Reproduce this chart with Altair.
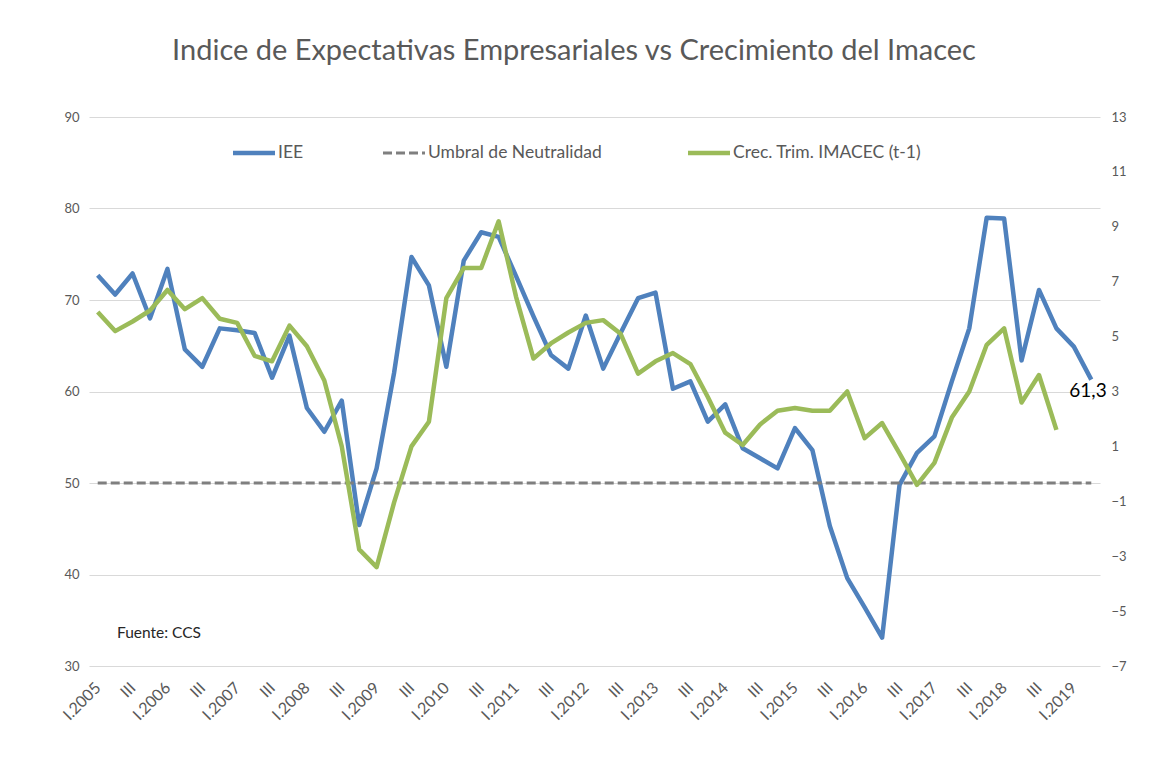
import altair as alt
import pandas as pd

# ---------------- data ----------------
quarter_names = ["I", "II", "III", "IV"]
years = list(range(2005, 2020))
quarters = [f"{q}.{y}" for y in years for q in quarter_names][:58]

# IEE (left axis)
iee = [72.7, 70.6, 72.9, 68.0, 73.4, 64.6, 62.7, 66.9, 66.7, 66.4,
       61.5, 66.1, 58.2, 55.6, 59.0, 45.4, 51.6, 62.0, 74.7, 71.6,
       62.7, 74.3, 77.4, 76.9, 72.6, 68.2, 64.0, 62.5, 68.3, 62.5,
       66.4, 70.2, 70.8, 60.3, 61.1, 56.7, 58.6, 53.8, 52.7, 51.6,
       56.0, 53.6, 45.3, 39.6, 36.4, 33.1, 49.8, 53.3, 55.1, 61.1,
       66.9, 79.0, 78.9, 63.4, 71.1, 66.9, 64.9, 61.3]

# Crec. Trim. IMACEC (t-1) (right axis)
imacec = [5.9, 5.2, 5.55, 5.95, 6.7, 6.0, 6.4, 5.65, 5.5, 4.3,
          4.1, 5.4, 4.65, 3.4, 1.0, -2.75, -3.4, -1.05, 1.0, 1.9,
          6.4, 7.5, 7.5, 9.2, 6.45, 4.2, 4.75, 5.15, 5.5, 5.6,
          5.1, 3.65, 4.1, 4.4, 4.0, 2.8, 1.5, 1.05, 1.8, 2.3,
          2.4, 2.3, 2.3, 3.0, 1.3, 1.85, 0.75, -0.4, 0.4, 2.05,
          3.0, 4.7, 5.3, 2.6, 3.6, 1.6]

umbral = 50
series_names = ["IEE", "Umbral de Neutralidad", "Crec. Trim. IMACEC (t-1)"]
left_ticks = [30, 40, 50, 60, 70, 80, 90]
right_ticks = [-7, -5, -3, -1, 1, 3, 5, 7, 9, 11, 13]
title_text = "Indice de Expectativas Empresariales vs Crecimiento del Imacec"
source_text = "Fuente: CCS"
last_label = "61,3"

# ---------------- style ----------------
FONT = "Lato"
GRAY = "#595959"
BLUE = "#4F81BD"
GREEN = "#9BBB59"
DASH = "#7F7F7F"
GRID = "#D9D9D9"
W, H = 1011, 549

df_iee = pd.DataFrame({"q": quarters, "v": iee})
df_im = pd.DataFrame({"q": quarters[:len(imacec)], "v": imacec})
df_umb = pd.DataFrame({"q": [quarters[0]], "q2": [quarters[-1]], "v": [umbral]})
df_last = pd.DataFrame({"q": [quarters[-1]], "v": [iee[-1]], "lab": [last_label]})
one = pd.DataFrame({"a": [0]})

xscale = alt.Scale(type="point", domain=quarters, padding=0.5)
xaxis = alt.Axis(
    values=quarters[::2],
    labelExpr="indexof(datum.value, 'III.') == 0 ? 'III' : datum.value",
    labelAngle=-45, labelAlign="right", labelBaseline="middle",
    labelPadding=19, labelFontSize=16, labelColor=GRAY, labelFont=FONT,
    ticks=False, domain=False, grid=False, title=None, labelOverlap=False,
)
xenc = alt.X("q:O", scale=xscale, axis=xaxis)

left_scale = alt.Scale(domain=[30, 90], nice=False, zero=False)
right_scale = alt.Scale(domain=[-7, 13], nice=False, zero=False)

blue = alt.Chart(df_iee).mark_line(
    color=BLUE, strokeWidth=4.5, strokeJoin="round"
).encode(
    x=xenc,
    y=alt.Y("v:Q", scale=left_scale, axis=alt.Axis(
        orient="left", values=left_ticks, grid=True, gridColor=GRID, gridWidth=1,
        ticks=False, domain=False, labelPadding=10, labelFontSize=13,
        labelColor=GRAY, labelFont=FONT, title=None)),
)

green = alt.Chart(df_im).mark_line(
    color=GREEN, strokeWidth=4.5, strokeJoin="round"
).encode(
    x=xenc,
    y=alt.Y("v:Q", scale=right_scale, axis=alt.Axis(
        orient="right", values=right_ticks, grid=False, ticks=False,
        domain=False, labelPadding=11, labelFontSize=13, labelColor=GRAY,
        labelFont=FONT, title=None)),
)

umb = alt.Chart(df_umb).mark_rule(
    color=DASH, strokeWidth=3, strokeDash=[9, 4]
).encode(
    x=xenc, x2="q2:O",
    y=alt.Y("v:Q", scale=left_scale, axis=None),
)

last_txt = alt.Chart(df_last).mark_text(
    align="left", baseline="middle", dx=-22, dy=11, fontSize=19,
    font=FONT, color="#000000"
).encode(
    x=xenc,
    y=alt.Y("v:Q", scale=left_scale, axis=None),
    text="lab:N",
)

title = alt.Chart(one).mark_text(
    text=title_text, align="center", baseline="middle", fontSize=29,
    font=FONT, color=GRAY
).encode(x=alt.value(485), y=alt.value(-66))

source = alt.Chart(one).mark_text(
    text=source_text, align="left", baseline="middle", fontSize=15.5,
    font=FONT, color="#262626"
).encode(x=alt.value(28), y=alt.value(516))

# legend
leg_y = 36
leg_items = [
    (144, BLUE, None, series_names[0]),
    (294, DASH, [9, 4], series_names[1]),
    (599, GREEN, None, series_names[2]),
]
leg_layers = []
for x0, col, dash, name in leg_items:
    kw = dict(color=col, strokeWidth=4.5 if dash is None else 3)
    if dash is not None:
        kw["strokeDash"] = dash
    leg_layers.append(
        alt.Chart(one).mark_rule(**kw).encode(
            x=alt.value(x0), x2=alt.value(x0 + 42), y=alt.value(leg_y))
    )
    leg_layers.append(
        alt.Chart(one).mark_text(
            text=name, align="left", baseline="middle", fontSize=17.5,
            font=FONT, color=GRAY
        ).encode(x=alt.value(x0 + 45), y=alt.value(leg_y))
    )

chart = alt.layer(
    blue, umb, green, last_txt, title, source, *leg_layers
).resolve_scale(y="independent").properties(
    width=W, height=H,
    padding={"left": 81, "top": 109, "right": 45, "bottom": 80},
    autosize=alt.AutoSizeParams(type="none"),
    background="white",
).configure_view(stroke=None)

chart.save("out.html", embed_options={"renderer": "svg", "actions": False})
